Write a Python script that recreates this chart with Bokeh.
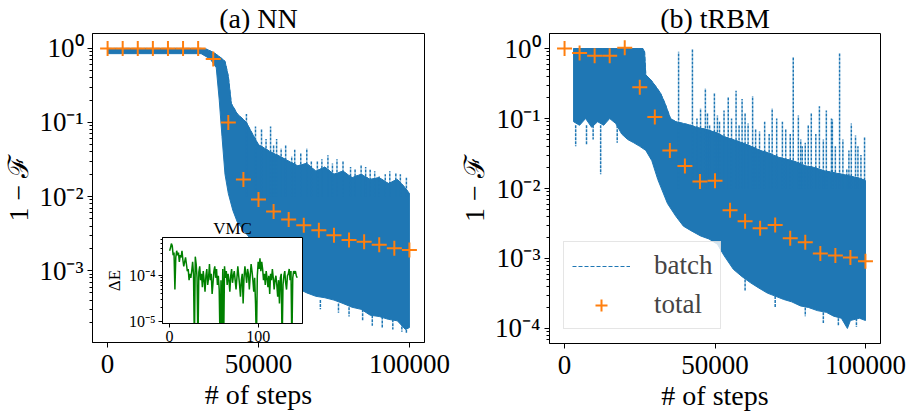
from bokeh.plotting import figure
from bokeh.models import Range1d, FixedTicker, Legend, LegendItem
from bokeh.layouts import row
from bokeh.embed import file_html
from bokeh.resources import INLINE

BLUE = "#1f77b4"
ORANGE = "#ff7f0e"
GREEN = "#008000"
FONT = "Liberation Serif"

# ---------------- data ----------------
# (a) NN : total fidelity error
nn_total_x = [0, 5000, 10000, 15000, 20000, 25000, 30000, 35000, 40000, 45000, 50000,
              55000, 60000, 65000, 70000, 75000, 80000, 85000, 90000, 95000, 100000]
nn_total_y = [1.0, 1.0, 1.0, 1.0, 1.0, 1.0, 1.0, 0.72, 0.10, 0.017, 0.0091,
              0.0063, 0.0049, 0.0041, 0.0035, 0.0030, 0.0026, 0.00245, 0.00224, 0.0020, 0.0019]
# (a) NN : batch envelope (upper / lower edges of the dense band)
nn_up_x = [0, 31000, 33000, 35500, 37500, 38900, 39500, 40000, 41000, 43000, 45000, 46000,
           48000, 50000, 52000, 54000, 57000, 60000, 63000, 66000, 69000, 72000, 75000,
           78000, 81000, 84000, 87000, 90000, 93000, 96000, 98000, 100000]
nn_up_y = [1.0, 1.0, 0.97, 0.86, 0.75, 0.67, 0.52, 0.42, 0.18, 0.13, 0.11, 0.10,
           0.07, 0.05, 0.045, 0.04, 0.035, 0.03, 0.026, 0.028, 0.022, 0.025, 0.02,
           0.022, 0.018, 0.02, 0.017, 0.018, 0.015, 0.017, 0.014, 0.011]
nn_lo_x = [0, 31000, 34000, 36000, 37000, 37900, 38900, 40000, 41500, 43000, 45000, 50000,
           55000, 60000, 62000, 66000, 69000, 72000, 75000, 78000, 81000, 84000, 87000,
           90000, 93000, 96000, 98700, 100000]
nn_lo_y = [0.85, 0.85, 0.72, 0.55, 0.2, 0.065, 0.02, 0.011, 0.0065, 0.0045, 0.0035, 0.002,
           0.0012, 0.0008, 0.0006, 0.0005, 0.00045, 0.00043, 0.0004, 0.00036, 0.00032, 0.0003,
           0.00025, 0.00024, 0.00022, 0.00021, 0.00016, 0.00017]
nn_spike_x = [46000, 49000, 51000, 54000, 56000, 59000, 62000, 66000, 69500, 73000, 76000,
              80500, 84000, 87000, 90000, 93500, 97000,
              52500, 55000, 57500, 61000, 64000, 67500, 71000, 74500, 78000, 82000, 85500,
              88500, 92000, 95500, 99000,
              64000, 70500, 76500, 80000, 84500, 87700, 91000, 94500, 97500, 99000]
nn_spike_lo = [0.01] * 32 + [0.0005, 0.0004, 0.00036, 0.00032, 0.0003, 0.00025, 0.00024,
                             0.00022, 0.0002, 0.00018]
nn_spike_hi = [0.13, 0.088, 0.083, 0.088, 0.06, 0.05, 0.043, 0.045, 0.03, 0.036, 0.032,
               0.025, 0.027, 0.023, 0.019, 0.022, 0.02,
               0.06, 0.05, 0.045, 0.035, 0.038, 0.03, 0.032, 0.028, 0.03, 0.024, 0.025,
               0.022, 0.02, 0.021, 0.018,
               0.00038, 0.0003, 0.00027, 0.00024, 0.00021, 0.00018, 0.00017, 0.00016,
               0.00015, 0.00014]

# (b) tRBM : total fidelity error
rbm_total_x = nn_total_x
rbm_total_y = [1.0, 0.86, 0.79, 0.79, 1.03, 0.28, 0.105, 0.035, 0.021, 0.0126, 0.0129,
               0.0049, 0.0034, 0.0027, 0.0030, 0.00194, 0.0017, 0.00118, 0.0011, 0.00103, 0.00091]
rbm_up_x = [3000, 26000, 26600, 27000, 28600, 30000, 31900, 33500, 35200, 37000, 39500,
            42000, 44200, 47000, 50800, 53000, 56000, 59000, 62000, 65000, 68000, 71000,
            74000, 77000, 80000, 83000, 86000, 89000, 92000, 95000, 98000, 100000]
rbm_up_y = [1.0, 1.0, 0.9, 0.42, 0.36, 0.3, 0.23, 0.16, 0.1, 0.09, 0.085,
            0.08, 0.074, 0.07, 0.062, 0.055, 0.05, 0.045, 0.04, 0.035, 0.032, 0.028,
            0.026, 0.024, 0.021, 0.02, 0.018, 0.017, 0.016, 0.015, 0.014, 0.013]
rbm_lo_x = [3000, 5000, 7000, 9000, 11000, 13000, 15000, 17000, 19000, 21000, 23000, 25000,
            27000, 29000, 31000, 34200, 37000, 39500, 42000, 45200, 48000, 50800, 53000,
            56100, 59000, 61800, 64500, 67400, 70000, 72800, 75500, 78400, 81000, 84000,
            87000, 89400, 92000, 94000, 95000, 98000, 100000]
rbm_lo_y = [0.09, 0.08, 0.1, 0.075, 0.09, 0.08, 0.1, 0.085, 0.06, 0.05, 0.045, 0.04,
            0.035, 0.025, 0.0134, 0.0061, 0.004, 0.0029, 0.0025, 0.0021, 0.0019, 0.0016, 0.0011,
            0.0007, 0.00055, 0.00045, 0.00038, 0.00032, 0.00029, 0.00026, 0.00024, 0.00021,
            0.0002, 0.00018, 0.00017, 0.00015, 0.00014, 0.0001, 0.00013, 0.00014, 0.00013]
rbm_spike_x = [37900, 42500, 45200, 46800, 48200, 49800, 50800, 54400, 57000, 59000, 61000,
               62500, 64800, 69000, 72400, 76000, 77700, 79000, 81000, 82000, 84700, 87000,
               88700, 89000, 91400, 93800, 95300, 96700, 99700,
               44000, 47500, 51500, 53000, 55500, 58000, 60000, 63500, 66500, 68000, 70500,
               73500, 75000, 78500, 80000, 83500, 86000, 90000, 92500, 94500, 97500, 98500,
               3700, 7300, 9500, 12000, 17500,
               60000, 70000, 80000, 86000, 91000, 97000]
rbm_spike_lo = [0.01] * 51 + [0.08] * 5 + [0.0005, 0.00029, 0.0002, 0.00017, 0.00014, 0.00014]
rbm_spike_hi = [0.9, 1.0, 0.14, 0.27, 0.08, 0.23, 0.11, 0.2, 0.25, 0.19, 0.085,
                0.21, 0.065, 0.14, 0.09, 0.77, 0.11, 0.04, 0.08, 0.12, 0.15, 0.13,
                0.1, 0.097, 0.85, 0.019, 0.085, 0.057, 0.055,
                0.1, 0.12, 0.09, 0.13, 0.1, 0.08, 0.12, 0.07, 0.09, 0.06, 0.1,
                0.07, 0.06, 0.05, 0.045, 0.06, 0.05, 0.04, 0.05, 0.035, 0.04, 0.03,
                0.04, 0.042, 0.05, 0.016, 0.045,
                0.00035, 0.0002, 0.00015, 0.00012, 0.00011, 0.000105]

# inset: VMC energy error per step
vmc_de = [3.5e-4, 4.0e-4, 5.0e-4, 4.5e-4, 2.8e-4, 3.2e-4, 5.0e-5, 2.5e-4, 3.5e-4, 2.8e-4, 3.2e-4,
          2.0e-4, 2.8e-4, 2.5e-4, 3.5e-4, 2.2e-4, 1.6e-4, 2.0e-4, 2.5e-4, 1.8e-4, 1.26e-4,
          1.4e-4, 8e-5, 1.1e-4, 9e-5, 1.26e-4, 2.0e-4, 1.1e-4, 3e-6, 2.6e-4, 1.8e-4,
          9e-5, 3e-6, 1.2e-4, 1.6e-4, 8e-5, 1.1e-4, 5.6e-5, 1.26e-4, 8e-5, 4.5e-5,
          1.0e-4, 1.4e-4, 6.3e-5, 9e-5, 1.8e-4, 8e-5, 1.1e-4, 4e-5, 7e-5, 1.26e-4,
          1.6e-4, 9e-5, 1.4e-4, 6.3e-5, 1.0e-4, 5e-5, 3e-6, 8e-5, 3e-6, 1.4e-4,
          3e-6, 1.6e-4, 9e-5, 1.26e-4, 6.3e-5, 1.1e-4, 8e-5, 4.5e-5, 1.0e-4, 1.4e-4,
          7e-5, 1.0e-4, 1.26e-4, 8e-5, 5e-5, 9e-5, 1.6e-4, 1.0e-4, 6.3e-5, 3.5e-5,
          8e-5, 1.1e-4, 2.5e-5, 9e-5, 1.6e-4, 1.1e-4, 7e-5, 1.4e-4, 1.1e-4, 5e-5,
          1.0e-4, 1.8e-4, 1.26e-4, 8e-5, 4.5e-5, 9e-5, 2.5e-5, 3e-6, 1.0e-4, 2.0e-4,
          1.4e-4, 2.4e-4, 1.26e-4, 2.0e-4, 1.4e-4, 8e-5, 1.1e-4, 6.3e-5, 1.26e-4, 9e-5,
          5.6e-5, 1.0e-4, 4e-5, 1.1e-4, 8e-5, 1.4e-4, 9e-5, 5e-5, 8e-5, 1.0e-4,
          6.3e-5, 3.5e-5, 8e-5, 2.5e-5, 9e-5, 1.1e-4, 3e-6, 6.3e-5, 1.0e-4, 1.26e-4,
          7e-5, 5e-5, 1.0e-4, 1.1e-4, 1.4e-4, 8e-5, 1.26e-4, 3e-6, 9e-5, 1.26e-4,
          1.1e-4, 1.26e-4, 1.0e-4, 9e-5]
vmc_step = list(range(len(vmc_de)))

# ticks
x_ticks = [0, 50000, 100000]
x_tick_labels = ["0", "50000", "100000"]
y_ticks = [1e-5, 1e-4, 1e-3, 1e-2, 1e-1, 1.0]
y_tick_labels = ["10\u207b\u2075", "10\u207b\u2074", "10\u207b\u00b3", "10\u207b\u00b2", "10\u207b\u00b9", "10\u2070"]
y_minor = [m * d for d in [1e-6, 1e-5, 1e-4, 1e-3, 1e-2, 1e-1] for m in range(2, 10)]
inset_x_ticks = [0, 100]
inset_x_labels = ["0", "100"]


def style_axes(p, tick_size, label_size):
    p.grid.visible = False
    p.outline_line_color = "black"
    p.outline_line_width = 1
    for ax in p.axis:
        ax.axis_line_color = "black"
        ax.major_tick_in = 0
        ax.minor_tick_in = 0
        ax.major_label_text_font = FONT
        ax.major_label_text_font_size = tick_size
        ax.major_label_text_color = "black"
        ax.axis_label_text_font = FONT
        ax.axis_label_text_font_size = label_size
        ax.axis_label_text_font_style = "normal"
        ax.axis_label_text_color = "black"
    p.title.text_font = FONT
    p.title.text_font_style = "normal"
    p.title.text_color = "black"
    p.title.align = "center"


def main_panel(title, yr, bl, br, fw, fh, bt, bb):
    p = figure(title=title, x_range=Range1d(-5000, 105000), y_range=Range1d(*yr),
               y_axis_type="log", frame_width=fw, frame_height=fh,
               min_border_left=bl, min_border_right=br, min_border_top=bt, min_border_bottom=bb,
               output_backend="svg", toolbar_location=None,
               background_fill_color="white", border_fill_color="white")
    style_axes(p, "27px", "28px")
    p.title.text_font_size = "28px"
    p.title.standoff = 0
    p.xaxis.ticker = FixedTicker(ticks=x_ticks, minor_ticks=[])
    p.xaxis.major_label_overrides = dict(zip(x_ticks, x_tick_labels))
    p.yaxis.ticker = FixedTicker(ticks=y_ticks, minor_ticks=y_minor)
    p.yaxis.major_label_overrides = dict(zip(y_ticks, y_tick_labels))
    p.xaxis.major_tick_out = 5
    p.yaxis.major_tick_out = 5
    p.yaxis.minor_tick_out = 3
    p.yaxis.major_label_standoff = 4
    p.xaxis.major_label_standoff = 7
    p.xaxis.axis_label = "# of steps"
    p.yaxis.axis_label = "1 \u2212 \u2131"
    p.xaxis.axis_label_standoff = 3
    p.yaxis.axis_label_standoff = 2
    return p


def draw_batch(p, up_x, up_y, lo_x, lo_y, sx, slo, shi):
    p.patch(x=up_x + lo_x[::-1], y=up_y + lo_y[::-1], fill_color=BLUE, line_color=BLUE,
            line_width=1)
    p.segment(x0=sx, y0=slo, x1=sx, y1=shi, line_color=BLUE, line_width=1.5, line_dash="3 1")
    return p.line(up_x, up_y, line_color=BLUE, line_width=1, line_dash="4 2")


# ---------------- panel (a) ----------------
p1 = main_panel("(a) NN", (1.07e-4, 1.59), 90, 32, 332, 309, 29, 64)
draw_batch(p1, nn_up_x, nn_up_y, nn_lo_x, nn_lo_y, nn_spike_x, nn_spike_lo, nn_spike_hi)
p1.scatter(nn_total_x, nn_total_y, marker="cross", size=15, line_color=ORANGE, line_width=2)

# ---------------- panel (b) ----------------
p2 = main_panel("(b) tRBM", (6.1e-5, 1.64), 92, 28, 331, 310, 29, 63)
rb = draw_batch(p2, rbm_up_x, rbm_up_y, rbm_lo_x, rbm_lo_y, rbm_spike_x, rbm_spike_lo, rbm_spike_hi)
rt = p2.scatter(rbm_total_x, rbm_total_y, marker="cross", size=15, line_color=ORANGE, line_width=2)
legend = Legend(items=[LegendItem(label="batch", renderers=[rb]),
                       LegendItem(label="total", renderers=[rt])],
                location="bottom_left", margin=14, padding=8, spacing=8,
                glyph_width=58, glyph_height=30, label_standoff=24,
                label_text_font=FONT, label_text_font_size="27px",
                border_line_color="#cccccc", border_line_width=1,
                background_fill_color="white", background_fill_alpha=0.8)
p2.add_layout(legend)

# ---------------- inset ----------------
ins = figure(title="VMC", x_range=Range1d(-8, 150), y_range=Range1d(9.1e-6, 6.8e-4),
             y_axis_type="log", frame_width=140, frame_height=86,
             min_border_left=62, min_border_right=6, min_border_top=33, min_border_bottom=34,
             output_backend="svg", toolbar_location=None,
             background_fill_color="white", border_fill_alpha=0)
style_axes(ins, "16px", "17px")
ins.title.text_font_size = "17px"
ins.title.standoff = 0
ins.xaxis.ticker = FixedTicker(ticks=inset_x_ticks, minor_ticks=[])
ins.xaxis.major_label_overrides = dict(zip(inset_x_ticks, inset_x_labels))
ins.yaxis.ticker = FixedTicker(ticks=y_ticks, minor_ticks=y_minor)
ins.yaxis.major_label_overrides = dict(zip(y_ticks, y_tick_labels))
ins.xaxis.major_tick_out = 4
ins.yaxis.major_tick_out = 4
ins.yaxis.minor_tick_out = 2
ins.yaxis.major_label_standoff = 3
ins.xaxis.major_label_standoff = 3
ins.yaxis.axis_label = "\u0394E"
ins.yaxis.axis_label_standoff = 2
ins.line(vmc_step, vmc_de, line_color=GREEN, line_width=1.5)
ins.styles = {"position": "absolute", "left": "100px", "top": "204px", "z-index": "5"}

layout = row(p1, p2, ins, spacing=0)
open("out.html", "w").write(file_html(layout, INLINE))
